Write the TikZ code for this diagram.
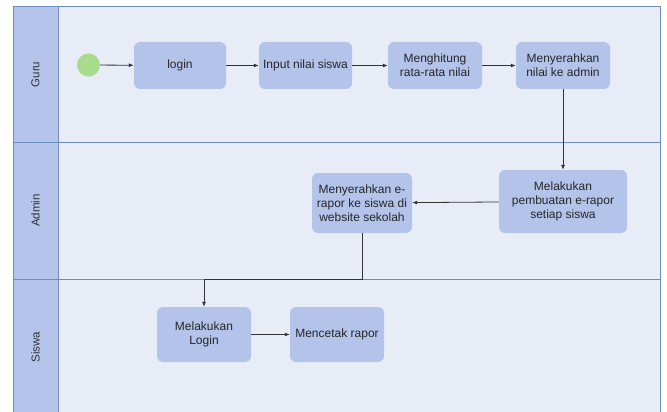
\documentclass[tikz,border=0pt]{standalone}
\usepackage{fontspec}
\setmainfont{Liberation Sans}
\usetikzlibrary{arrows.meta}
\definecolor{lanebg}{HTML}{E8ECF7}
\definecolor{headbg}{HTML}{B4C4EB}
\definecolor{laneline}{HTML}{6C8EBF}
\definecolor{boxfill}{HTML}{B3C3EA}
\definecolor{startgreen}{HTML}{A9DB8D}
\tikzset{
  act/.style={draw=none, fill=boxfill, rounded corners=6pt, align=center, inner sep=0pt,
    font=\fontsize{12}{14}\selectfont, text=black!85},
  lanelabel/.style={rotate=90, font=\fontsize{11.5}{13}\selectfont, text=black!80},
  flow/.style={draw=black!80, line width=0.8pt, -{Latex[length=5pt,width=4pt]}},
}
\begin{document}
\begin{tikzpicture}[x=1pt,y=-1pt]
\useasboundingbox (0,0) rectangle (667,412);
\fill[white] (0,0) rectangle (667,412);
% lanes
\fill[lanebg] (13,7) rectangle (660,416);
\fill[headbg] (13,7) rectangle (58,416);
\draw[laneline, line width=1pt] (13,416) -- (13,7) -- (660,7) -- (660,416);
\draw[laneline, line width=1pt] (58,7) -- (58,416);
\draw[laneline, line width=1pt] (13,142) -- (660,142);
\draw[laneline, line width=1pt] (13,279) -- (660,279);
\node[lanelabel] (lguru) at (35.5,74.5) {Guru};
\node[lanelabel] (ladmin) at (35.5,210.5) {Admin};
\node[lanelabel] (lsiswa) at (35.5,347) {Siswa};
% nodes
\node[circle, fill=startgreen, minimum size=23pt, inner sep=0pt] (start) at (88.5,65) {};
\node[act, minimum width=92pt, minimum height=47pt] (login) at (180,65.5) {login};
\node[act, minimum width=93pt, minimum height=47pt] (input) at (305.5,65.5) {Input nilai siswa};
\node[act, minimum width=94pt, minimum height=47pt] (hitung) at (435,65.5) {Menghitung\\rata-rata nilai};
\node[act, minimum width=94pt, minimum height=47pt] (serah) at (563,65.5) {Menyerahkan\\nilai ke admin};
\node[act, minimum width=128pt, minimum height=63pt] (buat) at (563,201.5) {Melakukan\\pembuatan e-rapor\\setiap siswa};
\node[act, minimum width=100pt, minimum height=60pt] (erapor) at (362,203) {Menyerahkan e-\\rapor ke siswa di\\website sekolah};
\node[act, minimum width=94pt, minimum height=55pt] (mlogin) at (204,334.5) {Melakukan\\Login};
\node[act, minimum width=94pt, minimum height=55pt] (cetak) at (337,334.5) {Mencetak rapor};
% connectors
\draw[flow] (start) -- (login);
\draw[flow] (login) -- (input);
\draw[flow] (input) -- (hitung);
\draw[flow] (hitung) -- (serah);
\draw[flow] (serah) -- (buat);
\draw[flow] (buat) -- (erapor);
\draw[flow] (erapor.south) |- (204,279) -- (mlogin.north);
\draw[flow] (mlogin) -- (cetak);
\end{tikzpicture}
\end{document}
